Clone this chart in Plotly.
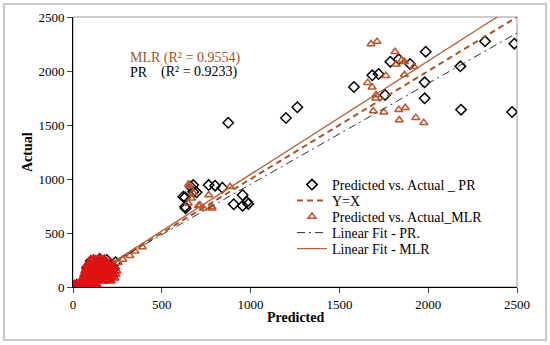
import plotly.graph_objects as go

# ---------------- data ----------------
pr_hi_x = [1986, 1787, 1834, 1898, 1685, 1721, 1582, 1980, 2181, 2320, 2485, 1757, 1980, 2185, 2472,
           874, 1199, 1263,
           631, 634, 677, 663, 696, 764, 800, 841, 955, 905, 955, 980, 987, 621, 631, 677]
pr_hi_y = [2179, 2086, 2108, 2065, 1960, 1972, 1852, 1895, 2043, 2275, 2253, 1778, 1747, 1642, 1620,
           1521, 1565, 1664,
           830, 729, 944, 929, 877, 944, 938, 919, 852, 766, 753, 787, 769, 836, 744, 882]
pr_low_x = [8, 22, 40, 55, 75, 95, 120, 70, 90, 110, 130, 150, 170, 190, 210, 230, 100, 140,
            160, 185, 205, 220, 80, 125, 240, 150]
pr_low_y = [10, 20, 8, 25, 12, 30, 18, 60, 95, 130, 160, 190, 220, 250, 200, 170, 240, 230,
            110, 80, 130, 100, 180, 70, 230, 260]

mlr_hi_x = [1678, 1712, 1813, 1820, 1866, 1920, 1659, 1684, 1762, 1866, 1706, 1704, 1691, 1750,
            1834, 1871, 1837, 1930, 1975, 1850,
            655, 677, 668, 649, 706, 734, 764, 784, 884, 651, 715, 781,
            255, 280, 320, 350, 390]
mlr_hi_y = [2250, 2272, 2179, 2062, 2086, 2040, 1892, 1849, 1957, 1966, 1778, 1747, 1630, 1618,
            1642, 1660, 1546, 1568, 1521, 2100,
            935, 873, 821, 775, 753, 729, 852, 729, 929, 951, 759, 744,
            225, 255, 290, 330, 370]
mlr_low_x = [4, 18, 33, 47, 63, 78, 94, 108, 123, 138,
             9, 26, 41, 57, 69, 86, 101, 117, 131,
             48, 66, 79, 96, 112, 124, 141, 157, 168, 186, 201, 214,
             56, 71, 84, 102, 114, 131, 146, 158, 176, 189, 206, 219, 236,
             61, 74, 92, 104, 121, 133, 151, 164, 181, 196, 209, 226, 241,
             66, 82, 94, 111, 126, 139, 156, 171, 184, 199, 216, 229, 246,
             72, 86, 99, 116, 129, 146, 161, 174, 191, 204, 221, 234,
             77, 91, 106, 119, 136, 149, 166, 179, 196, 211, 224,
             89, 104, 121, 134, 151, 164, 181, 194, 209,
             101, 116, 129, 146, 159, 176]
mlr_low_y = [6, 12, 4, 14, 8, 16, 5, 11, 7, 13,
             28, 35, 25, 38, 30, 27, 36, 31, 26,
             60, 52, 63, 55, 61, 50, 58, 64, 53, 59, 62, 54,
             90, 83, 94, 86, 92, 81, 89, 95, 84, 91, 87, 93, 82,
             115, 121, 112, 124, 117, 110, 122, 114, 120, 111, 125, 116, 119,
             146, 152, 141, 150, 144, 155, 147, 140, 153, 145, 151, 142, 149,
             175, 182, 171, 179, 185, 174, 181, 172, 184, 177, 173, 180,
             204, 212, 201, 210, 206, 214, 203, 211, 207, 200, 209,
             233, 240, 231, 238, 242, 234, 239, 232, 237,
             259, 266, 257, 268, 261, 264]

pr_x = pr_low_x + pr_hi_x
pr_y = pr_low_y + pr_hi_y
mlr_x = mlr_hi_x + mlr_low_x
mlr_y = mlr_hi_y + mlr_low_y

yx_x = [230, 2500]
yx_y = [230, 2500]
pr_fit_x = [230, 2500]
pr_fit_y = [232, 2352]
mlr_fit_x = [230, 2500]
mlr_fit_y = [235, 2618]

x_ticks = [0, 500, 1000, 1500, 2000, 2500]
y_ticks = [0, 500, 1000, 1500, 2000, 2500]

BROWN = "#A8552D"
TRI = "#C0532C"
CLUSTER_RED = "#E01212"
serif = "Liberation Serif"

mlr_colors = [TRI] * len(mlr_hi_x) + [CLUSTER_RED] * len(mlr_low_x)

fig = go.Figure()
fig.add_trace(go.Scatter(x=pr_x, y=pr_y, mode="markers", name="Predicted vs. Actual _ PR",
                         legend="legend",
                         marker=dict(symbol="diamond-open", size=8, color="black",
                                     line=dict(width=1.5))))
fig.add_trace(go.Scatter(x=mlr_x, y=mlr_y, mode="markers", name="Predicted vs. Actual_MLR",
                         legend="legend3",
                         marker=dict(symbol="triangle-up-open", size=7, color=mlr_colors,
                                     line=dict(width=1.5))))
fig.add_trace(go.Scatter(x=yx_x, y=yx_y, mode="lines", name="Y=X", legend="legend2",
                         line=dict(color=BROWN, width=2, dash="6px,4px")))
fig.add_trace(go.Scatter(x=pr_fit_x, y=pr_fit_y, mode="lines", name="Linear Fit - PR.",
                         legend="legend4",
                         line=dict(color="#333333", width=1, dash="8px,4px,2px,4px")))
fig.add_trace(go.Scatter(x=mlr_fit_x, y=mlr_fit_y, mode="lines", name="Linear Fit - MLR",
                         legend="legend5",
                         line=dict(color="#B4603A", width=1.3)))


def px_x(p):
    return (p - 73) / 444.0


def px_y(p):
    return (287 - p) / 270.0


def leg(top_px):
    return dict(x=px_x(292), y=px_y(top_px), xanchor="left", yanchor="top",
                bgcolor="rgba(0,0,0,0)", font=dict(size=14, family=serif, color="black"),
                itemwidth=30)


fig.update_layout(
    width=550, height=345,
    margin=dict(l=73, r=33, t=17, b=58, autoexpand=False),
    paper_bgcolor="white", plot_bgcolor="white",
    font=dict(family=serif, size=13, color="black"),
    showlegend=True,
    legend=leg(169), legend2=leg(185), legend3=leg(201), legend4=leg(217), legend5=leg(233),
    xaxis=dict(range=[0, 2500], tickvals=x_ticks, ticks="outside", ticklen=5,
               showline=True, linecolor="black", linewidth=1, showgrid=False,
               zeroline=False, tickfont=dict(size=13, family=serif), automargin=False),
    yaxis=dict(range=[0, 2500], tickvals=y_ticks, ticks="outside", ticklen=5,
               showline=True, linecolor="black", linewidth=1, showgrid=False,
               zeroline=False, tickfont=dict(size=13, family=serif), automargin=False),
    shapes=[
        dict(type="rect", xref="paper", yref="paper", x0=0, x1=1, y0=0, y1=1,
             line=dict(color="#999999", width=1), layer="below"),
        dict(type="rect", xref="paper", yref="paper", x0=px_x(4), x1=px_x(546),
             y0=px_y(340), y1=px_y(4),
             line=dict(color="#c8c8c8", width=2), layer="below"),
    ],
)

# axis titles
fig.add_annotation(x=px_x(295), y=px_y(318), xref="paper", yref="paper", xanchor="center",
                   yanchor="middle", showarrow=False, text="<b>Predicted</b>",
                   font=dict(family=serif, size=14, color="black"))
fig.add_annotation(x=px_x(27), y=px_y(152), xref="paper", yref="paper", xanchor="center",
                   yanchor="middle", showarrow=False, text="<b>Actual</b>", textangle=-90,
                   font=dict(family=serif, size=14, color="black"))

# R² labels
fig.add_annotation(x=px_x(128), y=px_y(58), xref="paper", yref="paper", xanchor="left",
                   yanchor="middle", showarrow=False, text="MLR (R² = 0.9554)",
                   font=dict(family=serif, size=14, color="#A0522D"))
fig.add_annotation(x=px_x(128), y=px_y(72), xref="paper", yref="paper", xanchor="left",
                   yanchor="middle", showarrow=False, text="PR",
                   font=dict(family=serif, size=14, color="black"))
fig.add_annotation(x=px_x(159), y=px_y(72), xref="paper", yref="paper", xanchor="left",
                   yanchor="middle", showarrow=False, text="(R² = 0.9233)",
                   font=dict(family=serif, size=14, color="black"))

fig.write_html("out.html", config={"displayModeBar": False},
               post_script="document.body.style.margin='0px';document.body.style.overflow='hidden';")
